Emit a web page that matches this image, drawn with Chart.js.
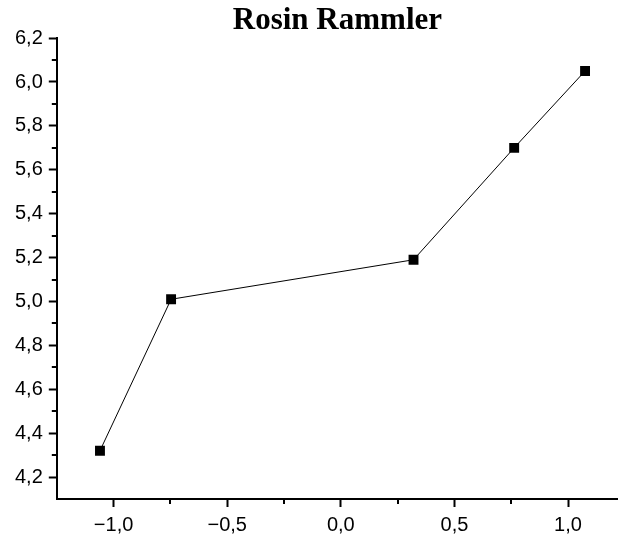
<!DOCTYPE html>
<html lang="en">
<head>
    <meta charset="UTF-8">
    <script src="https://cdn.jsdelivr.net/npm/chart.js"></script>
    <title>Rosin Rammler</title>
    <style>
        html, body { margin: 0; padding: 0; background: #fff; }
        #wrap { width: 618px; height: 537px; }
    </style>
</head>
<body>
    <div id="wrap">
        <canvas id="myChart"></canvas>
    </div>
    <script>
        const xValues = [-1.06, -0.747, 0.32, 0.763, 1.075];
        const yValues = [4.32, 5.01, 5.19, 5.70, 6.05];
        const chartTitle = 'Rosin Rammler';

        const points = xValues.map((x, i) => ({ x: x, y: yValues[i] }));

        function fmt(v) {
            return v.toFixed(1).replace('.', ',').replace('-', '\u2212');
        }

        // minor ticks halfway between the major ones
        const minorTicks = {
            id: 'minorTicks',
            afterDraw(chart) {
                const ctx = chart.ctx;
                ctx.save();
                ctx.strokeStyle = '#000';
                ctx.lineWidth = 2;
                const ys = chart.scales.y;
                const xs = chart.scales.x;
                for (let v = 4.3; v < 6.2; v += 0.2) {
                    const py = Math.round(ys.getPixelForValue(v));
                    ctx.beginPath();
                    ctx.moveTo(ys.right, py);
                    ctx.lineTo(ys.right - 5, py);
                    ctx.stroke();
                }
                for (let v = -0.75; v < 1.2; v += 0.5) {
                    const px = Math.round(xs.getPixelForValue(v));
                    ctx.beginPath();
                    ctx.moveTo(px, xs.top);
                    ctx.lineTo(px, xs.top + 5);
                    ctx.stroke();
                }
                ctx.restore();
            }
        };

        const ctx = document.getElementById('myChart');
        const chart = new Chart(ctx, {
            type: 'scatter',
            data: {
                datasets: [{
                    data: points,
                    showLine: true,
                    borderColor: '#000',
                    borderWidth: 1,
                    backgroundColor: '#000',
                    pointStyle: 'rect',
                    pointRadius: 7,
                    pointBorderWidth: 0,
                    pointHoverRadius: 7
                }]
            },
            options: {
                responsive: true,
                maintainAspectRatio: false,
                animation: false,
                layout: { autoPadding: false, padding: { left: 9, right: 0, top: 0, bottom: 0 } },
                plugins: {
                    legend: { display: false },
                    tooltip: { enabled: false },
                    title: {
                        display: true,
                        fullSize: false,
                        text: chartTitle,
                        color: '#000',
                        font: { family: 'Liberation Serif', size: 31, weight: 'bold', lineHeight: 1.1 },
                        padding: { top: 4, bottom: 0 }
                    }
                },
                scales: {
                    x: {
                        type: 'linear',
                        min: -1.25,
                        max: 1.22,
                        afterFit: (scale) => { scale.height = 38; },
                        border: { display: true, color: '#000', width: 2 },
                        grid: {
                            drawOnChartArea: false,
                            drawTicks: true,
                            tickLength: 8,
                            tickWidth: 2,
                            tickColor: '#000'
                        },
                        ticks: {
                            stepSize: 0.5,
                            includeBounds: false,
                            color: '#000',
                            padding: 6,
                            maxRotation: 0,
                            font: { family: 'Liberation Sans', size: 20 },
                            callback: (v) => fmt(v)
                        }
                    },
                    y: {
                        type: 'linear',
                        min: 4.1,
                        max: 6.2,
                        border: { display: true, color: '#000', width: 2 },
                        grid: {
                            drawOnChartArea: false,
                            drawTicks: true,
                            tickLength: 8,
                            tickWidth: 2,
                            tickColor: '#000'
                        },
                        ticks: {
                            stepSize: 0.2,
                            includeBounds: false,
                            color: '#000',
                            padding: 6,
                            font: { family: 'Liberation Sans', size: 20 },
                            callback: (v) => fmt(v)
                        }
                    }
                }
            },
            plugins: [minorTicks]
        });
    </script>
</body>
</html>
